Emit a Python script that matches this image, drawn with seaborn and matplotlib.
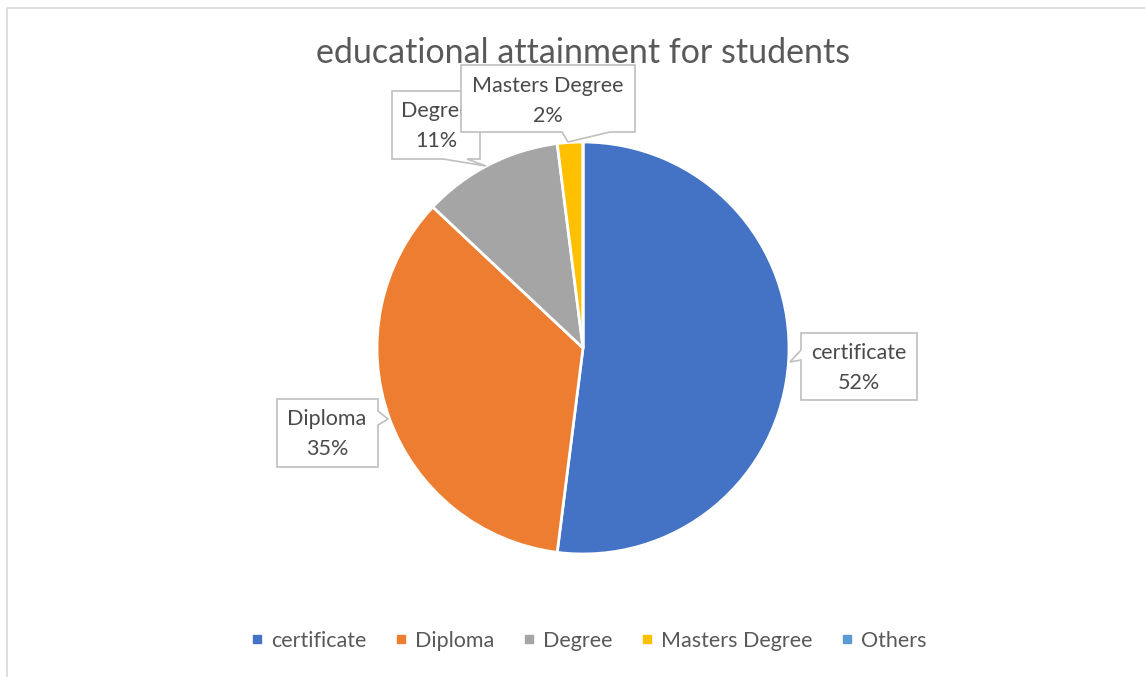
import matplotlib
matplotlib.use("Agg")
import matplotlib.pyplot as plt
import seaborn as sns
from matplotlib.patches import Polygon
from matplotlib.lines import Line2D

categories = ["certificate", "Diploma", "Degree", "Masters Degree", "Others"]
shares = [52, 35, 11, 2, 0]
colors = ["#4472C4", "#ED7D31", "#A5A5A5", "#FFC000", "#5B9BD5"]
title = "educational attainment for students"

sns.set_theme(style="white")
plt.rcParams["font.family"] = ["Lato", "DejaVu Sans"]

W, H = 1145, 677
fig = plt.figure(figsize=(W / 100, H / 100), dpi=100)
fig.patch.set_facecolor("white")

def px_rect(x0, y0, x1, y1):
    return [x0 / W, 1 - y1 / H, (x1 - x0) / W, (y1 - y0) / H]

# pie
cx, cy, r = 583, 348, 206
ax = fig.add_axes(px_rect(cx - r, cy - r, cx + r, cy + r))
ax.pie(shares, colors=colors, startangle=90, counterclock=False,
       wedgeprops=dict(edgecolor="white", linewidth=2))
ax.set_xlim(-1, 1)
ax.set_ylim(-1, 1)
ax.set_aspect("equal")
ax.axis("off")

# overlay in pixel coordinates
ov = fig.add_axes([0, 0, 1, 1], zorder=5)
ov.set_xlim(0, W)
ov.set_ylim(H, 0)
ov.axis("off")
ov.patch.set_alpha(0)

# chart border
ov.plot([7, 7, W], [H, 8, 8], color="#D9D9D9", lw=1.2)

ov.text(583, 53, title, ha="center", va="center", fontsize=24.5,
        color="#595959")

edge = "#BFBFBF"
tc = "#4a4a4a"
fs = 15.5

def callout(pts, cxy, idx, z):
    poly = Polygon(pts, closed=True, facecolor="white", edgecolor=edge,
                   lw=1.2, zorder=z)
    ov.add_patch(poly)
    ov.text(cxy[0], cxy[1], f"{categories[idx]}\n{shares[idx]}%", ha="center",
            va="center", fontsize=fs, color=tc, linespacing=1.6, zorder=z + 0.1)

# certificate (pointer on left)
callout([(801, 333), (917, 333), (917, 400), (801, 400), (801, 360), (790, 362), (801, 350)],
        (859, 368), 0, 6)
# Diploma (pointer on right)
callout([(277, 399), (378, 399), (378, 411), (388, 419), (378, 425), (378, 467), (277, 467)],
        (327, 434), 1, 6)
# Degree (pointer on bottom)
callout([(392, 91), (480, 91), (480, 159), (467, 159), (486, 166), (443, 159), (392, 159)],
        (436, 126), 2, 6)
# Masters Degree (pointer on bottom, drawn on top)
callout([(461, 65), (635, 65), (635, 132), (610, 132), (568, 142), (562, 132), (461, 132)],
        (548, 101), 3, 7)

handles = [Line2D([0], [0], marker="s", linestyle="none", markersize=5.5,
                  markerfacecolor=c, markeredgecolor=c) for c in colors]
leg = fig.legend(handles, categories, loc="center", bbox_to_anchor=(589 / W, 1 - 641 / H),
                 ncol=5, frameon=False, fontsize=fs, handlelength=0.5,
                 handletextpad=0.4, columnspacing=1.35, labelcolor="#595959")

fig.savefig("out.png", dpi=100, facecolor="white")
